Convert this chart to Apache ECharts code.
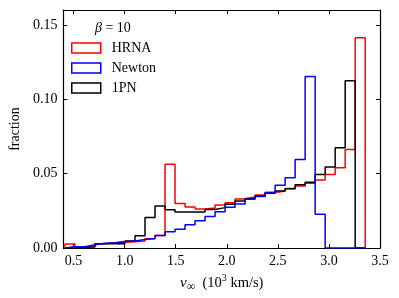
<!DOCTYPE html>
<html>
<head>
<meta charset="utf-8">
<script src="https://cdn.jsdelivr.net/npm/echarts@6/dist/echarts.min.js"></script>
<style>html,body{margin:0;padding:0;background:#fff;}#c{width:399px;height:298px;}</style>
</head>
<body>
<div id="c"></div>
<script>
// bin edges (10^3 km/s)
var binEdges = [0.415,0.513,0.611,0.709,0.807,0.905,1.003,1.101,1.199,1.297,1.395,1.493,1.591,1.689,1.787,1.885,1.983,2.081,2.179,2.277,2.375,2.473,2.571,2.669,2.767,2.865,2.963,3.061,3.159,3.257,3.355];
var seriesNames = ['HRNA','Newton','1PN'];
var hrna = [0.0028,0.0008,0.0015,0.0030,0.0036,0.0040,0.0042,0.0048,0.0062,0.0085,0.0564,0.0299,0.0277,0.0263,0.0270,0.0290,0.0304,0.0330,0.0343,0.0357,0.0373,0.0384,0.0400,0.0417,0.0435,0.0457,0.0495,0.0540,0.0663,0.1414];
var newton = [0.0009,0.0009,0.0022,0.0033,0.0036,0.0044,0.0047,0.0058,0.0065,0.0085,0.0110,0.0127,0.0157,0.0183,0.0212,0.0245,0.0275,0.0296,0.0328,0.0346,0.0373,0.0422,0.0473,0.0596,0.1153,0.0228,0,0,0,0];
var pn1 = [0.0005,0.0005,0.0008,0.0029,0.0029,0.0029,0.0047,0.0083,0.0205,0.0283,0.0257,0.0243,0.0243,0.0243,0.0260,0.0272,0.0294,0.0317,0.0333,0.0350,0.0368,0.0384,0.0398,0.0425,0.0442,0.0495,0.0545,0.0674,0.1124,0];
var xTicks = [0.5,1.0,1.5,2.0,2.5,3.0,3.5];
var yTicks = [0,0.05,0.10,0.15];

var FONT = 'Liberation Serif';
function histPoints(vals){
  var pts = [[binEdges[0],0]];
  for (var i=0;i<vals.length;i++) pts.push([binEdges[i],vals[i]]);
  pts.push([binEdges[vals.length],0]);
  return pts;
}
var axisLine = {show:true, onZero:false, lineStyle:{color:'#000', width:1.2}};
var tickStyle = {color:'#000', width:1};
var chart = echarts.init(document.getElementById('c'), null, {renderer:'canvas'});
var option = {
  animation:false,
  backgroundColor:'#fff',
  grid:{left:59, right:19, top:10, bottom:49, containLabel:false},
  title:{
    text:'{b|β} = 10', left:95, top:21, padding:0,
    textStyle:{fontFamily:FONT, fontSize:14, fontWeight:'normal', color:'#000',
      rich:{b:{fontFamily:FONT, fontSize:14, fontStyle:'italic', color:'#000'}}}
  },
  legend:{
    orient:'vertical', left:71, top:40, padding:0, itemGap:4,
    itemWidth:29, itemHeight:10, icon:'rect', selectedMode:false,
    textStyle:{fontFamily:FONT, fontSize:14, color:'#000', lineHeight:16, padding:[0,0,0,6]},
    itemStyle:{color:'rgba(0,0,0,0)', borderWidth:1.5},
    data:[
      {name:seriesNames[0], itemStyle:{color:'rgba(0,0,0,0)', borderColor:'#ff0000', borderWidth:1.5}},
      {name:seriesNames[1], itemStyle:{color:'rgba(0,0,0,0)', borderColor:'#0000ff', borderWidth:1.5}},
      {name:seriesNames[2], itemStyle:{color:'rgba(0,0,0,0)', borderColor:'#000000', borderWidth:1.5}}
    ]
  },
  xAxis:[{
    type:'value', min:0.4, max:3.5, position:'bottom',
    axisLine:axisLine,
    axisTick:{show:true, inside:true, length:4, customValues:xTicks, lineStyle:tickStyle},
    axisLabel:{customValues:xTicks, formatter:function(v){return v.toFixed(1);}, margin:6, fontFamily:FONT, fontSize:14, color:'#000'},
    splitLine:{show:false},
    name:'{i|v}{sub|∞}  (10{sup|3} km/s)', nameLocation:'middle', nameGap:21,
    nameTextStyle:{fontFamily:FONT, fontSize:14.5, color:'#000', lineHeight:20,
      rich:{
        i:{fontFamily:FONT, fontSize:15, fontStyle:'italic', color:'#000', lineHeight:20},
        sub:{fontFamily:FONT, fontSize:12, color:'#000', lineHeight:11, verticalAlign:'bottom'},
        sup:{fontFamily:FONT, fontSize:10, color:'#000', lineHeight:10, verticalAlign:'top'}
      }}
  },{
    type:'value', min:0.4, max:3.5, position:'top',
    axisLine:axisLine,
    axisTick:{show:true, inside:true, length:4, customValues:xTicks, lineStyle:tickStyle},
    axisLabel:{show:false}, splitLine:{show:false}
  }],
  yAxis:[{
    type:'value', min:0, max:0.16, position:'left',
    axisLine:axisLine,
    axisTick:{show:true, inside:true, length:4, customValues:yTicks, lineStyle:tickStyle},
    axisLabel:{customValues:yTicks, formatter:function(v){return v.toFixed(2);}, margin:6, fontFamily:FONT, fontSize:14, color:'#000'},
    splitLine:{show:false},
    name:'fraction', nameLocation:'middle', nameGap:37,
    nameTextStyle:{fontFamily:FONT, fontSize:14, color:'#000'}
  },{
    type:'value', min:0, max:0.16, position:'right',
    axisLine:axisLine,
    axisTick:{show:true, inside:true, length:4, customValues:yTicks, lineStyle:tickStyle},
    axisLabel:{show:false}, splitLine:{show:false}
  }],
  series:[
    {name:seriesNames[0], type:'line', step:'end', symbol:'none', data:histPoints(hrna),
     itemStyle:{color:'#ff0000'}, lineStyle:{color:'#ff0000', width:1.5}, z:2},
    {name:seriesNames[2], type:'line', step:'end', symbol:'none', data:histPoints(pn1),
     itemStyle:{color:'#000000'}, lineStyle:{color:'#000000', width:1.5}, z:3},
    {name:seriesNames[1], type:'line', step:'end', symbol:'none', data:histPoints(newton),
     itemStyle:{color:'#0000ff'}, lineStyle:{color:'#0000ff', width:1.5}, z:4}
  ]
};
chart.setOption(option);
</script>
</body>
</html>
